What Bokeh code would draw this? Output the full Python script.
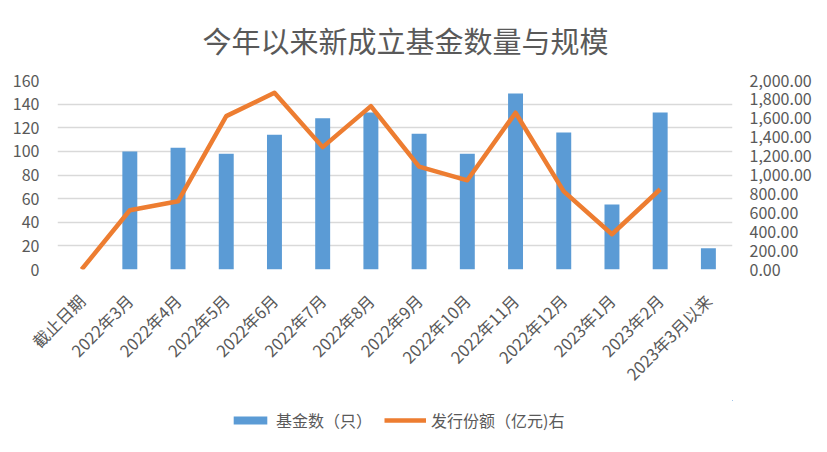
#bokeh combo chart: bars + line on two y axes

import math
from bokeh.plotting import figure
from bokeh.layouts import column
from bokeh.models import (Range1d, LinearAxis, FixedTicker, NumeralTickFormatter,
                          Legend, LegendItem, ColumnDataSource)
from bokeh.embed import file_html
from bokeh.resources import INLINE

#data
categories = ["截止日期", "2022年3月", "2022年4月", "2022年5月", "2022年6月",
              "2022年7月", "2022年8月", "2022年9月", "2022年10月", "2022年11月",
              "2022年12月", "2023年1月", "2023年2月", "2023年3月以来"]
fund_count = [float("nan"), 100, 103, 98, 114, 128, 133, 115, 98, 149, 116, 55, 133, 18]
issue_size = [0, 627, 722, 1623, 1870, 1295, 1729, 1088, 944, 1659, 827, 373, 849, float("nan")]

left_ticks = [0, 20, 40, 60, 80, 100, 120, 140, 160]
right_ticks = [0, 200, 400, 600, 800, 1000, 1200, 1400, 1600, 1800, 2000]

FONT = "Noto Sans CJK SC"
GREY = "#595959"
BLUE = "#5B9BD5"
ORANGE = "#ED7D31"

xs = list(range(len(categories)))
src = ColumnDataSource(data=dict(x=xs, count=fund_count, size=issue_size))

chart = figure(width=819, height=400, output_backend="svg", toolbar_location=None,
               x_range=Range1d(-0.5, len(categories) - 0.5), y_range=Range1d(0, 160),
               min_border_left=57, min_border_right=87, min_border_top=80,
               min_border_bottom=131)
chart.outline_line_color = None

#title
chart.title.text = "今年以来新成立基金数量与规模"
chart.title.align = "left"
chart.title.offset = 145
chart.title.vertical_align = "top"
chart.title.text_font = FONT
chart.title.text_font_size = "29px"
chart.title.text_font_style = "normal"
chart.title.text_color = GREY
chart.title.standoff = 36

#second y range for the line
chart.extra_y_ranges = {"size": Range1d(0, 2000)}

chart.vbar(x="x", top="count", width=0.31, source=src,
           fill_color=BLUE, line_color=None)
chart.line(x="x", y="size", source=src, y_range_name="size",
           line_color=ORANGE, line_width=4.5, line_join="round")

#axes
chart.xaxis.ticker = FixedTicker(ticks=xs)
chart.xaxis.major_label_overrides = {i: c for i, c in enumerate(categories)}
chart.xaxis.major_label_orientation = math.pi / 4
chart.xaxis.major_label_standoff = 22
chart.xaxis.axis_line_color = None
chart.xaxis.major_tick_line_color = None
chart.xaxis.minor_tick_line_color = None
chart.xaxis.major_label_text_font = FONT
chart.xaxis.major_label_text_font_size = "16.5px"
chart.xaxis.major_label_text_color = GREY

chart.yaxis.ticker = FixedTicker(ticks=left_ticks)
chart.yaxis.axis_line_color = None
chart.yaxis.major_tick_line_color = None
chart.yaxis.minor_tick_line_color = None
chart.yaxis.major_label_standoff = 12
chart.yaxis.major_label_text_font = FONT
chart.yaxis.major_label_text_font_size = "16px"
chart.yaxis.major_label_text_color = GREY

ax2 = LinearAxis(y_range_name="size", ticker=FixedTicker(ticks=right_ticks),
                 formatter=NumeralTickFormatter(format="0,0.00"))
ax2.axis_line_color = None
ax2.major_tick_line_color = None
ax2.minor_tick_line_color = None
ax2.major_label_standoff = 11
ax2.major_label_text_font = FONT
ax2.major_label_text_font_size = "16px"
ax2.major_label_text_color = GREY
chart.add_layout(ax2, "right")

#grid
chart.xgrid.grid_line_color = None
chart.ygrid.ticker = FixedTicker(ticks=left_ticks)
chart.ygrid.grid_line_color = "#d9d9d9"
chart.ygrid.grid_line_width = 1.5

#legend strip under the chart (same data, ranges set so the marks fall off-canvas)
key = figure(width=819, height=44, output_backend="svg", toolbar_location=None,
             x_range=Range1d(-100, -99), y_range=Range1d(-2, -1),
             x_axis_type=None, y_axis_type=None,
             min_border_left=0, min_border_right=0, min_border_top=0, min_border_bottom=0)
key.outline_line_color = None
key.grid.grid_line_color = None
key_bar = key.vbar(x="x", top="count", width=0.31, source=src,
                   fill_color=BLUE, line_color=None)
key_line = key.line(x="x", y="size", source=src, line_color=ORANGE, line_width=4.5)

legend = Legend(items=[LegendItem(label="基金数（只）", renderers=[key_bar]),
                       LegendItem(label="发行份额（亿元)右", renderers=[key_line])],
                orientation="horizontal", location=(172, 12))
legend.glyph_width = 42
legend.glyph_height = 10
legend.label_text_font = FONT
legend.label_text_font_size = "16px"
legend.label_text_color = GREY
legend.label_standoff = 5
legend.spacing = 12
legend.padding = 0
legend.margin = 0
legend.border_line_color = None
legend.background_fill_alpha = 0
key.add_layout(legend, "center")

p = column(chart, key, spacing=0)

open("out.html", "w").write(file_html(p, INLINE))
